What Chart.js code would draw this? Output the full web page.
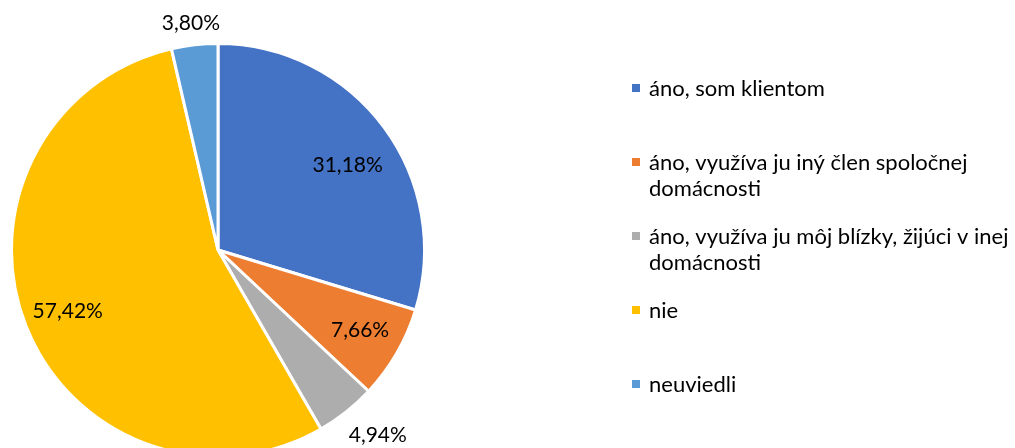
<!DOCTYPE html>
<html>
<head>
<meta charset="utf-8">
<script src="https://cdn.jsdelivr.net/npm/chart.js@4"></script>
<style>
	html, body { margin: 0; padding: 0; background: #fff; overflow: hidden; }
	#wrap { width: 1015px; height: 448px; overflow: hidden; }
</style>
</head>
<body>
<div id="wrap"><canvas id="pie"></canvas></div>
<script>
// Values (percent, they add up to 105)
var labels = [
	['áno, som klientom'],
	['áno, využíva ju iný člen spoločnej', 'domácnosti'],
	['áno, využíva ju môj blízky, žijúci v inej', 'domácnosti'],
	['nie'],
	['neuviedli']
]
var values = [31.18, 7.66, 4.94, 57.42, 3.80]
var colors = ['#4472C4', '#ED7D31', '#ADADAD', '#FFC000', '#5B9BD5']

// where each value label sits: fraction of the radius, angle shift in degrees
var labelPos = [
	{ r: 0.75, a: 3.4 },
	{ r: 0.79, a: -0.6 },
	{ r: 1.185, a: -2.4 },
	{ r: 0.785, a: -0.6 },
	{ r: 1.105, a: -0.3 }
]

var FONT = 'Lato, "Open Sans", sans-serif'

function fitSize(ctx, text, target) {
	var s = 22
	while (s > 8) {
		ctx.font = s + 'px ' + FONT
		if (ctx.measureText(text).width <= target) break
		s -= 0.5
	}
	return s
}

var labelsPlugin = {
	id: 'excelLabels',
	afterDraw: function(chart) {
		var ctx = chart.ctx
		var meta = chart.getDatasetMeta(0)
		ctx.save()
		ctx.fillStyle = '#000'
		ctx.textBaseline = 'middle'

		// value labels
		var vs = fitSize(ctx, '31,18%', 71)
		ctx.font = vs + 'px ' + FONT
		ctx.textAlign = 'center'
		meta.data.forEach(function(arc, i) {
			var p = arc.getProps(['x', 'y', 'startAngle', 'endAngle', 'outerRadius'], true)
			var mid = (p.startAngle + p.endAngle) / 2 + labelPos[i].a * Math.PI / 180
			var r = p.outerRadius * labelPos[i].r
			var txt = values[i].toFixed(2).replace('.', ',') + '%'
			ctx.fillText(txt, p.x + r * Math.cos(mid), p.y + r * Math.sin(mid))
		})

		// legend
		var ls = fitSize(ctx, 'áno, som klientom', 180)
		ctx.font = ls + 'px ' + FONT
		ctx.textAlign = 'left'
		for (var i = 0; i < labels.length; i++) {
			var y = 88 + i * 74
			ctx.fillStyle = colors[i]
			ctx.fillRect(632, y - 4, 8, 8)
			ctx.fillStyle = '#000'
			for (var j = 0; j < labels[i].length; j++) {
				ctx.fillText(labels[i][j], 649, y + 1 + j * 26)
			}
		}
		ctx.restore()
	}
}

var ctx = document.getElementById('pie').getContext('2d')
ctx.canvas.width = 1015
ctx.canvas.height = 460
var cfg = {
	type: 'pie',
	data: {
		labels: labels.map(function(l) { return l.join(' ') }),
		datasets: [{
			data: values,
			backgroundColor: colors,
			borderColor: '#fff',
			borderWidth: 3
		}]
	},
	options: {
		responsive: false,
		animation: false,
		layout: { padding: { left: 10, top: 42, right: 589, bottom: 2 } },
		plugins: {
			legend: { display: false },
			tooltip: { enabled: false }
		}
	},
	plugins: [labelsPlugin]
}
var chart = new Chart(ctx, cfg)
</script>
</body>
</html>
